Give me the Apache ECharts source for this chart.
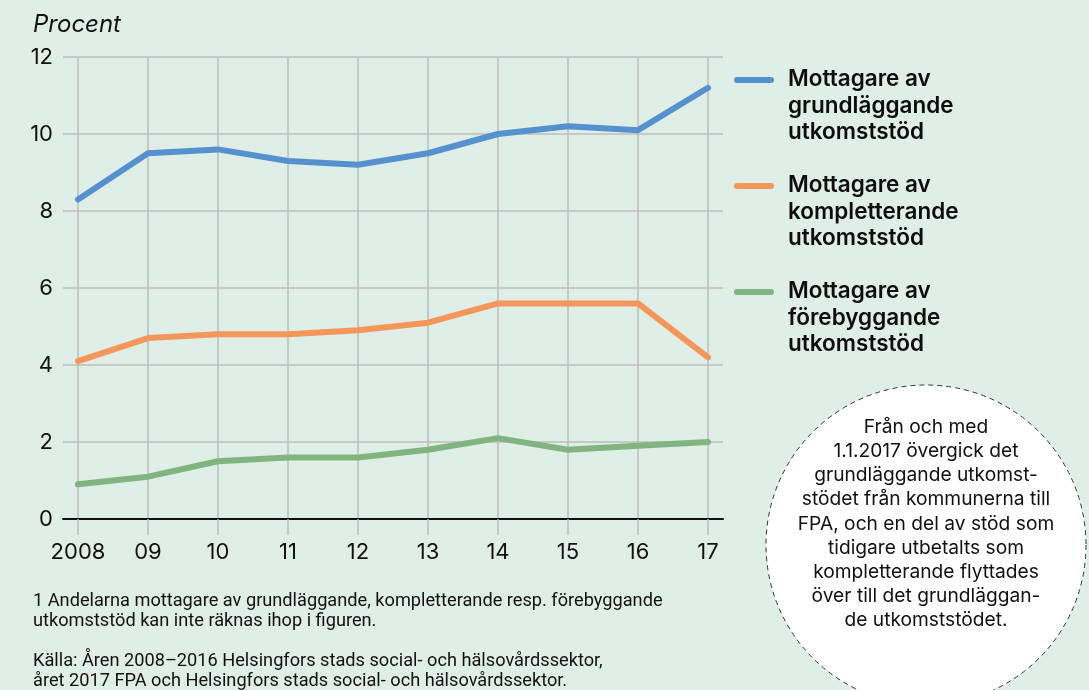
<!DOCTYPE html>
<html>
<head>
<meta charset="utf-8">
<script src="https://cdn.jsdelivr.net/npm/echarts@6/dist/echarts.min.js"></script>
<style>
  html, body { margin: 0; padding: 0; background: #dfeee6; }
  #chart { width: 1089px; height: 690px; }
</style>
</head>
<body>
<div id="chart"></div>
<script>
// Years and tick labels
const years = [2008, 2009, 2010, 2011, 2012, 2013, 2014, 2015, 2016, 2017];
const yearLabels = ['2008', '09', '10', '11', '12', '13', '14', '15', '16', '17'];

// Share of recipients, per cent
const grundlaggande = [8.3, 9.5, 9.6, 9.3, 9.2, 9.5, 10.0, 10.2, 10.1, 11.2];
const kompletterande = [4.1, 4.7, 4.8, 4.8, 4.9, 5.1, 5.6, 5.6, 5.6, 4.2];
const forebyggande = [0.9, 1.1, 1.5, 1.6, 1.6, 1.8, 2.1, 1.8, 1.9, 2.0];

const seriesNames = [
  'Mottagare av\ngrundläggande\nutkomststöd',
  'Mottagare av\nkompletterande\nutkomststöd',
  'Mottagare av\nförebyggande\nutkomststöd'
];
const seriesValues = [grundlaggande, kompletterande, forebyggande];
const seriesColors = ['#5590cf', '#f5965a', '#81b47e'];

const yTicks = [0, 2, 4, 6, 8, 10, 12];

const noteText = 'Från och med\n1.1.2017 övergick det\ngrundläggande utkomst-\nstödet från kommunerna till\nFPA, och en del av stöd som\ntidigare utbetalts som\nkompletterande flyttades\növer till det grundläggan-\nde utkomststödet.';
const footnote = '1 Andelarna mottagare av grundläggande, kompletterande resp. förebyggande\nutkomststöd kan inte räknas ihop i figuren.';
const sourceText = 'Källa: Åren 2008–2016 Helsingfors stads social- och hälsovårdssektor,\nåret 2017 FPA och Helsingfors stads social- och hälsovårdssektor.';

const numFont = 'Inter, "Liberation Sans", sans-serif';
const textFont = 'Inter, "Noto Sans", sans-serif';

const chart = echarts.init(document.getElementById('chart'));

// Legend entries drawn as graphics so the swatch sits on the first text line
const legendGraphics = [];
seriesNames.forEach((name, i) => {
  const top = 66 + i * 106;
  legendGraphics.push({
    type: 'line',
    shape: { x1: 737, y1: 80 + i * 106, x2: 771, y2: 80 + i * 106 },
    style: { stroke: seriesColors[i], lineWidth: 6, lineCap: 'round' }
  });
  legendGraphics.push({
    type: 'text',
    left: 788, top: top,
    style: {
      text: name, fill: '#0d0d0d', font: '600 22.5px ' + textFont, lineHeight: 26.5
    }
  });
});

chart.setOption({
  backgroundColor: '#dfeee6',
  animation: false,
  grid: { left: 63, right: 366, top: 57, bottom: 171, containLabel: false },
  xAxis: {
    type: 'value',
    min: 2008 - 15 / 70,
    max: 2017 + 15 / 70,
    axisLine: { show: true, onZero: false, lineStyle: { color: '#111', width: 2 } },
    axisTick: {
      show: true, length: 16, customValues: years,
      lineStyle: { color: '#bdbdbd', width: 1.5 }
    },
    splitLine: { show: true, lineStyle: { color: '#bdbdbd', width: 1.5 } },
    axisLabel: {
      customValues: years, margin: 22,
      color: '#111', fontSize: 22, fontFamily: numFont,
      formatter: v => yearLabels[years.indexOf(Math.round(v))]
    }
  },
  yAxis: {
    type: 'value',
    min: 0, max: 12, interval: 2,
    name: 'Procent',
    nameLocation: 'end',
    nameGap: 0,
    nameTextStyle: {
      fontStyle: 'italic', fontSize: 24, color: '#111', fontFamily: numFont,
      align: 'left', verticalAlign: 'bottom', padding: [0, 0, 20, -30]
    },
    axisLine: { show: false },
    axisTick: { show: false },
    splitLine: { show: true, lineStyle: { color: '#bdbdbd', width: 1.5 } },
    axisLabel: {
      margin: 10, color: '#111', fontSize: 22, fontFamily: numFont,
      formatter: v => (yTicks.includes(v) ? String(v) : '')
    }
  },
  series: seriesValues.map((vals, i) => ({
    type: 'line',
    name: seriesNames[i],
    data: years.map((y, j) => [y, vals[j]]),
    showSymbol: false,
    lineStyle: { color: seriesColors[i], width: 6, cap: 'round', join: 'round' },
    itemStyle: { color: seriesColors[i] },
    z: 3
  })),
  graphic: legendGraphics.concat([
    {
      type: 'circle',
      shape: { cx: 926, cy: 545, r: 160 },
      style: { fill: '#ffffff', stroke: '#333', lineWidth: 1, lineDash: [5, 4] }
    },
    {
      type: 'text',
      x: 926, y: 415,
      style: {
        text: noteText, fill: '#111', font: '19.2px ' + textFont,
        align: 'center', verticalAlign: 'top', lineHeight: 24.2
      }
    },
    {
      type: 'text',
      left: 33, top: 592,
      style: { text: footnote, fill: '#111', font: '18.2px Roboto, sans-serif', lineHeight: 19.5 }
    },
    {
      type: 'text',
      left: 33, top: 652,
      style: { text: sourceText, fill: '#111', font: '18.2px Roboto, sans-serif', lineHeight: 19.5 }
    }
  ])
});
</script>
</body>
</html>
